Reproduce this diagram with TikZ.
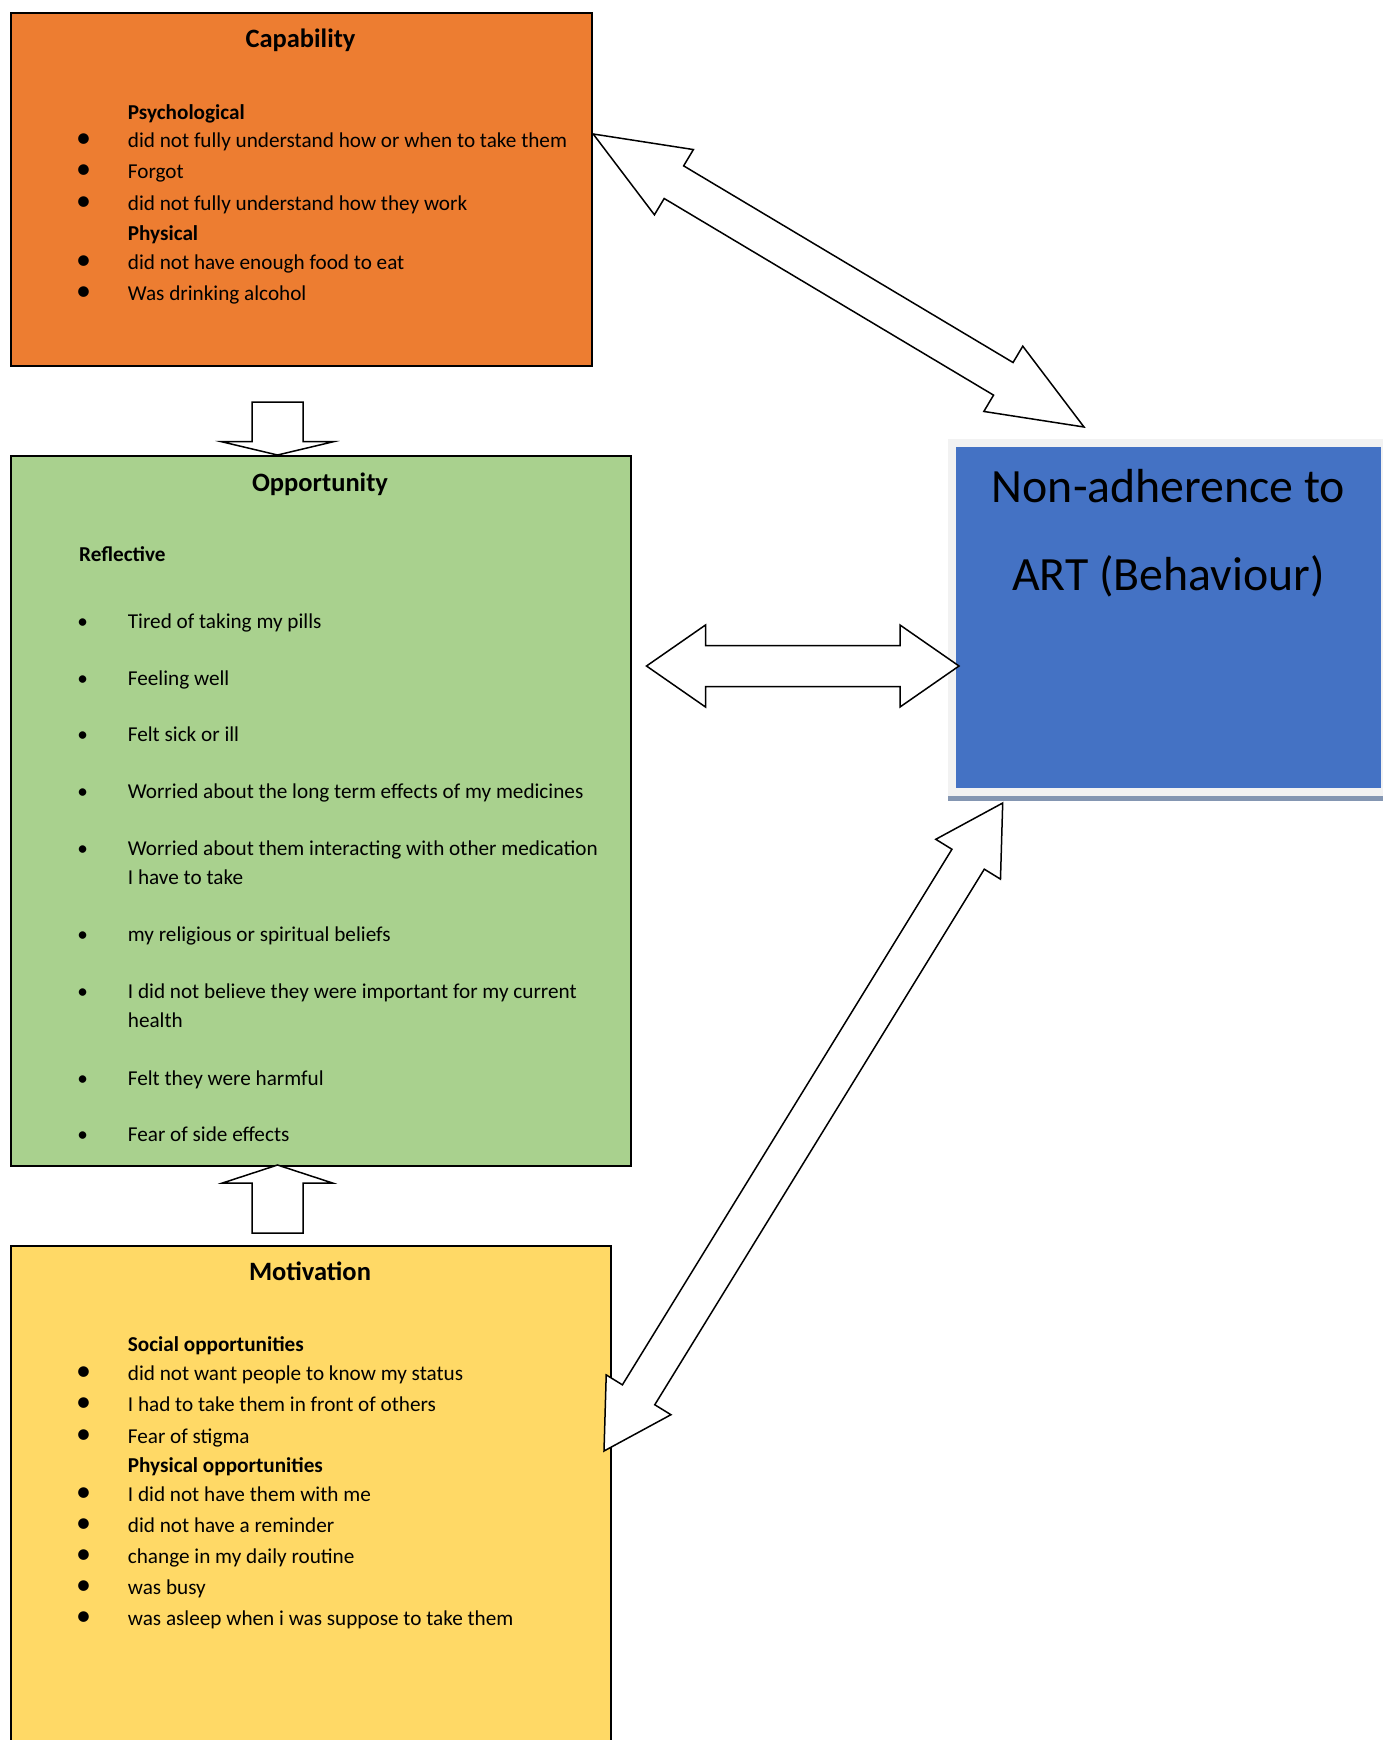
\documentclass[tikz,border=0pt]{standalone}
\usepackage{fontspec}
\setmainfont{Carlito}
\usetikzlibrary{calc}
\definecolor{capfill}{RGB}{237,125,49}
\definecolor{oppfill}{RGB}{169,209,142}
\definecolor{motfill}{RGB}{255,217,102}
\definecolor{behfill}{RGB}{68,114,196}
\definecolor{behbar}{RGB}{132,150,178}
\definecolor{behframe}{RGB}{242,242,242}

% block arrow with two heads: from, to, head length, head half width, shaft half width
\newcommand{\dblarrow}[5]{%
  \draw[blk] (#1) -- ($(#1)!#3!(#2)!#4!90:(#2)$) -- ($(#1)!#3!(#2)!#5!90:(#2)$)
    -- ($(#2)!#3!(#1)!#5!-90:(#1)$) -- ($(#2)!#3!(#1)!#4!-90:(#1)$) -- (#2)
    -- ($(#2)!#3!(#1)!#4!90:(#1)$) -- ($(#2)!#3!(#1)!#5!90:(#1)$)
    -- ($(#1)!#3!(#2)!#5!-90:(#2)$) -- ($(#1)!#3!(#2)!#4!-90:(#2)$) -- cycle;}
% block arrow with one head: tail, tip, head length, head half width, shaft half width
\newcommand{\onearrow}[5]{%
  \draw[blk] ($(#1)!#5!90:(#2)$) -- ($(#2)!#3!(#1)!#5!-90:(#1)$)
    -- ($(#2)!#3!(#1)!#4!-90:(#1)$) -- (#2) -- ($(#2)!#3!(#1)!#4!90:(#1)$)
    -- ($(#2)!#3!(#1)!#5!90:(#1)$) -- ($(#1)!#5!-90:(#2)$) -- cycle;}

\begin{document}
\begin{tikzpicture}[x=0.5pt,y=-0.5pt,
    box/.style={draw=black, line width=1.1pt, inner sep=0pt, anchor=north west},
    blk/.style={draw=black, fill=white, line width=0.75pt, line join=miter},
    ttl/.style={font=\fontsize{13.25}{16}\selectfont\bfseries, anchor=base, inner sep=0pt},
    hd/.style={font=\fontsize{10.6}{13}\selectfont\bfseries, anchor=base west, inner sep=0pt},
    txt/.style={font=\fontsize{10.6}{13}\selectfont, anchor=base west, inner sep=0pt},
    bul/.style={font=\fontsize{15}{15}\selectfont, anchor=base, inner sep=0pt},
    sbul/.style={font=\fontsize{10.6}{13}\selectfont, anchor=base, inner sep=0pt}]
  \useasboundingbox (0,0) rectangle (1383,1740);

  % boxes
  \node[box, fill=capfill, minimum width=290.5pt, minimum height=176.5pt] (cap) at (10,12) {};
  \node[box, fill=oppfill, minimum width=310pt, minimum height=355pt] (opp) at (10,455) {};
  \node[box, fill=motfill, minimum width=300pt, minimum height=270pt] (mot) at (10,1245) {};
  \node[fill=behframe, inner sep=0pt, anchor=north west, minimum width=217.5pt, minimum height=178.5pt] (behfr) at (948,439) {};
  \node[fill=behfill, inner sep=0pt, anchor=north west, minimum width=212.5pt, minimum height=170.5pt] (beh) at (956,447) {};
  \node[fill=behbar, inner sep=0pt, anchor=north west, minimum width=217.5pt, minimum height=2.5pt] (behsh) at (948,796) {};

  % titles
  \node[ttl] (capT) at (300.5,47) {Capability};
  \node[ttl] (oppT) at (320,491.5) {Opportunity};
  \node[ttl] (motT) at (310,1280) {Motivation};
  \node[font=\fontsize{23.9}{26}\selectfont, anchor=base, inner sep=0pt] (beh1) at (1168.5,502) {Non-adherence to};
  \node[font=\fontsize{23.9}{26}\selectfont, anchor=base, inner sep=0pt] (beh2) at (1168.5,590) {ART (Behaviour)};

  % capability
  \node[hd] (psy) at (127.5,119) {Psychological};
  \node[hd] (phy) at (127.5,240) {Physical};
  \foreach \y/\t [count=\i] in {147/did not fully understand how or when to take them,
      178/Forgot, 210/did not fully understand how they work,
      269/did not have enough food to eat, 300/Was drinking alcohol}{
    \node[bul] (cb\i) at (83.5,\y) {•};
    \node[txt] (ct\i) at (127.5,\y) {\t};
  }

  % opportunity
  \node[hd] (refl) at (78.8,561.7) {Reflective};
  \foreach \y/\t [count=\i] in {628.3/Tired of taking my pills, 685/Feeling well,
      741/Felt sick or ill, 798.3/Worried about the long term effects of my medicines,
      855/Worried about them interacting with other medication,
      941.7/my religious or spiritual beliefs,
      998.3/I did not believe they were important for my current,
      1085/Felt they were harmful, 1141/Fear of side effects}{
    \node[sbul] (ob\i) at (82.6,\y) {•};
    \node[txt] (ot\i) at (127.5,\y) {\t};
  }
  \node[txt] (ot5b) at ($(ot5.base west)+(0,29.3)$) {I have to take};
  \node[txt] (ot7b) at ($(ot7.base west)+(0,29.3)$) {health};

  % motivation
  \node[hd] (soc) at (127.5,1351) {Social opportunities};
  \node[hd] (phyo) at (127.5,1472.5) {Physical opportunities};
  \foreach \y/\t [count=\i] in {1380/did not want people to know my status,
      1411/I had to take them in front of others, 1443/Fear of stigma,
      1501.5/I did not have them with me, 1532.7/did not have a reminder,
      1563.5/change in my daily routine, 1594.7/was busy,
      1625.6/was asleep when i was suppose to take them}{
    \node[bul] (mb\i) at (83.5,\y) {•};
    \node[txt] (mt\i) at (127.5,\y) {\t};
  }

  % arrow ends
  \coordinate (capE) at ($(cap.north east)+(0,122)$);
  \coordinate (behN) at (1084,427);
  \coordinate (oppE) at (646.5,666);
  \coordinate (behW) at (959,666);
  \coordinate (behS) at (1002.7,803);
  \coordinate (motE) at (604,1451);
  \coordinate (capS) at (277.5,402);
  \coordinate (oppN) at (277.5,455);
  \coordinate (motN) at (277.5,1233);
  \coordinate (oppS) at (277.5,1165);

  % arrows
  \dblarrow{capE}{behN}{47pt}{19pt}{9.5pt}
  \dblarrow{oppE}{behW}{29.5pt}{20.5pt}{10.25pt}
  \dblarrow{behS}{motE}{33pt}{19pt}{9.5pt}
  \onearrow{capS}{oppN}{6.65pt}{28pt}{12.75pt}
  \onearrow{motN}{oppS}{9pt}{27.5pt}{12.75pt}
\end{tikzpicture}
\end{document}
